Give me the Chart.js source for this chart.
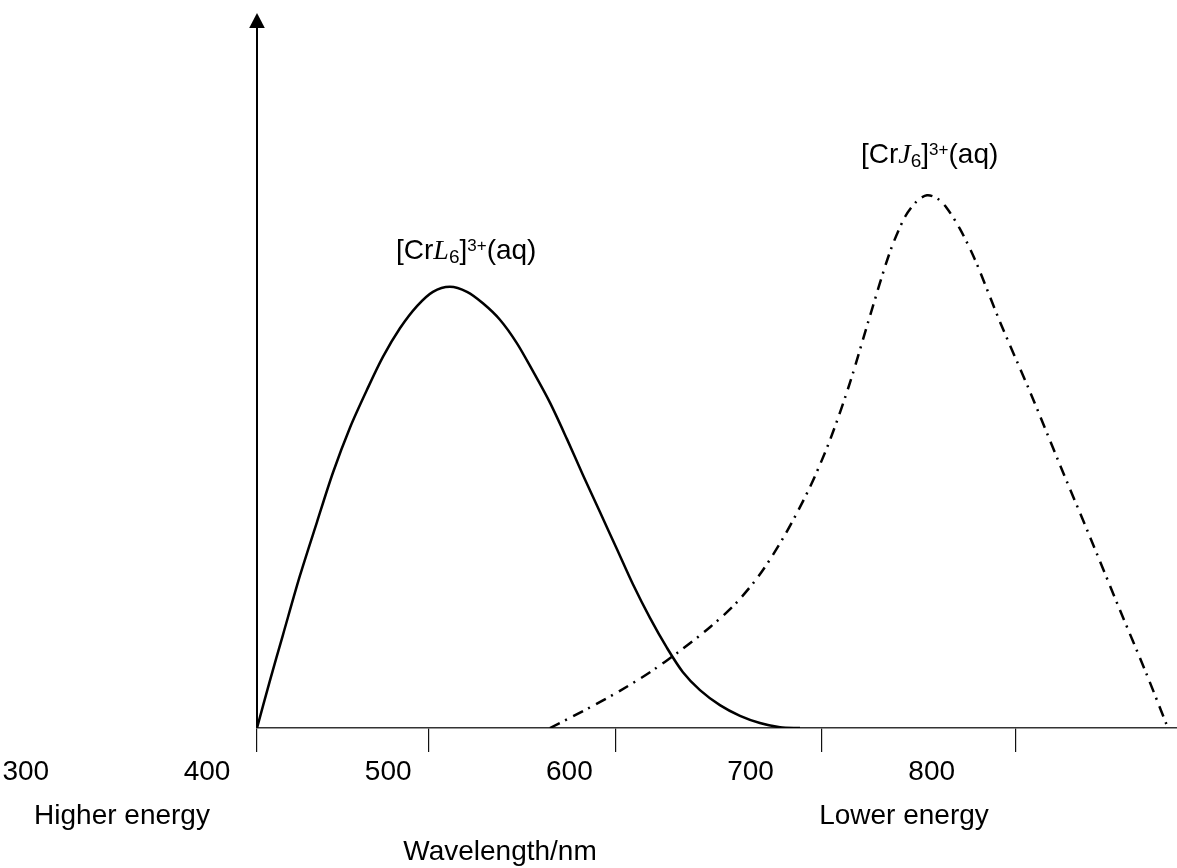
<!DOCTYPE html>
<html><head><meta charset="utf-8">
<script src="https://cdn.jsdelivr.net/npm/chart.js@4.4.1/dist/chart.umd.min.js"></script>
<style>html,body{margin:0;padding:0;background:#fff;}canvas{display:block;}</style>
</head><body>
<canvas id="c" width="1177" height="868"></canvas>
<script>
// ---- data (wavelength in nm, absorbance in arbitrary units 0-100) ----
const wavelengthL = [427.6, 434.7, 441.9, 451.3, 460.7, 469.5, 478.9, 488.3, 497.1, 506.5, 515.9, 524.7, 534.1, 543.5, 552.3, 561.7, 571.1, 579.9, 589.3, 598.7, 607.5, 616.9, 626.3, 635.1, 644.5, 653.9, 662.7, 672.1, 683.1, 694.2, 705.2, 716.3, 727.3];
const absorbanceL = [0, 6.6, 13.0, 21.3, 28.8, 35.7, 42.0, 47.3, 51.9, 55.9, 59.0, 61.0, 61.7, 61.0, 59.4, 57.1, 53.8, 49.9, 45.5, 40.4, 35.4, 30.2, 25.0, 20.1, 15.4, 11.2, 7.8, 5.3, 3.2, 1.7, 0.7, 0.1, 0];
const wavelengthJ = [589.3, 608.6, 627.9, 644.5, 661.1, 677.6, 691.4, 705.2, 719.0, 732.8, 743.9, 754.9, 765.9, 777.0, 785.3, 791.9, 797.4, 802.9, 808.4, 815.6, 823.9, 837.7, 854.3, 870.8, 887.4, 903.9, 917.7, 930.4];
const absorbanceJ = [0, 2.5, 5.2, 7.8, 10.8, 14.1, 17.3, 21.5, 27.0, 33.7, 40.3, 48.3, 57.6, 66.6, 71.5, 73.7, 74.5, 74.1, 72.7, 69.8, 65.5, 56.8, 47.0, 36.8, 26.7, 16.5, 8.1, 0];
const tickMarkValues = [427.6, 522.5, 625.7, 739.4, 846.5];
const tickLabelValues = [300, 400, 500, 600, 700, 800];
const tickLabels = ['300', '400', '500', '600', '700', '800'];

const SANS = '"Liberation Sans", Arial, sans-serif';
const SERIF = '"Liberation Serif", "Times New Roman", serif';

function drawRich(ctx, x, y, parts) {
  let cx = x;
  ctx.textBaseline = 'alphabetic';
  ctx.textAlign = 'left';
  for (const p of parts) {
    ctx.font = p.font;
    ctx.fillText(p.t, cx, y + (p.dy || 0));
    cx += ctx.measureText(p.t).width;
  }
}

const annot = {
  id: 'annot',
  afterDraw(chart) {
    const ctx = chart.ctx;
    const xs = chart.scales.x, ys = chart.scales.y;
    const ax = xs.getPixelForValue(xs.min);
    const yBot = ys.getPixelForValue(0), yTop = ys.getPixelForValue(100);
    ctx.save();
    ctx.fillStyle = '#000';
    ctx.strokeStyle = '#000';
    // y axis with arrow
    ctx.lineWidth = 2;
    ctx.beginPath();
    ctx.moveTo(ax, yBot);
    ctx.lineTo(ax, yTop + 14);
    ctx.stroke();
    ctx.beginPath();
    ctx.moveTo(ax, yTop);
    ctx.lineTo(ax - 7.8, yTop + 15);
    ctx.lineTo(ax + 7.8, yTop + 15);
    ctx.closePath();
    ctx.fill();
    // tick labels
    ctx.font = '28px ' + SANS;
    ctx.textAlign = 'center';
    ctx.textBaseline = 'alphabetic';
    tickLabelValues.forEach((v, i) => {
      ctx.fillText(tickLabels[i], xs.getPixelForValue(v), 780);
    });
    ctx.fillText('Higher energy', 122, 824);
    ctx.fillText('Lower energy', 904, 824);
    ctx.fillText('Wavelength/nm', 500, 860);
    // curve labels
    const n = '28px ' + SANS, it = 'italic 28px ' + SERIF, sm = '19px ' + SANS, sp = '17px ' + SANS;
    drawRich(ctx, 396, 259, [
      {t: '[Cr', font: n}, {t: 'L', font: it}, {t: '6', font: sm, dy: 4},
      {t: ']', font: n}, {t: '3+', font: sp, dy: -8}, {t: '(aq)', font: n}
    ]);
    drawRich(ctx, 861, 163, [
      {t: '[Cr', font: n}, {t: 'J', font: it}, {t: '6', font: sm, dy: 4},
      {t: ']', font: n}, {t: '3+', font: sp, dy: -8}, {t: '(aq)', font: n}
    ]);
    ctx.restore();
  }
};

new Chart(document.getElementById('c'), {
  type: 'line',
  data: {
    datasets: [
      {
        label: '[CrL6]3+(aq)',
        data: wavelengthL.map((x, i) => ({x, y: absorbanceL[i]})),
        borderColor: '#000', borderWidth: 2.5, pointRadius: 0,
        tension: 0.3, fill: false
      },
      {
        label: '[CrJ6]3+(aq)',
        data: wavelengthJ.map((x, i) => ({x, y: absorbanceJ[i]})),
        borderColor: '#000', borderWidth: 2.5, pointRadius: 0,
        borderDash: [11, 6, 2, 7], borderCapStyle: 'butt',
        tension: 0.3, fill: false
      }
    ]
  },
  options: {
    responsive: false,
    animation: false,
    layout: {padding: {left: 257, right: 0, top: 13, bottom: 116}},
    plugins: {legend: {display: false}, tooltip: {enabled: false}},
    scales: {
      x: {
        type: 'linear', min: 427.6, max: 935.4,
        afterBuildTicks: (axis) => { axis.ticks = tickMarkValues.map(v => ({value: v})); },
        ticks: {display: false},
        grid: {drawOnChartArea: false, drawTicks: true, tickLength: 24, color: '#111', lineWidth: 1.2},
        border: {display: true, color: '#333', width: 1.5}
      },
      y: {display: false, min: 0, max: 100}
    }
  },
  plugins: [annot]
});
</script></body></html>
